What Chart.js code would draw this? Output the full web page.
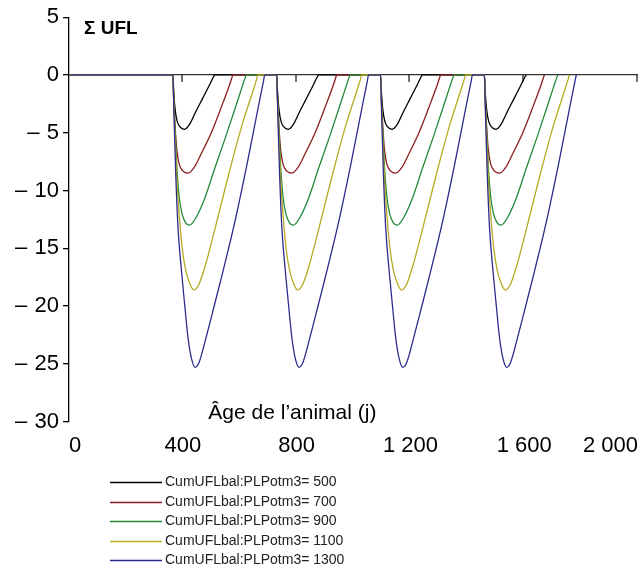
<!DOCTYPE html>
<html>
<head>
<meta charset="utf-8">
<script src="https://cdn.jsdelivr.net/npm/chart.js@4"></script>
<style>
  body { margin: 0; background: #fff; }
  #wrap { width: 641px; height: 570px; }
</style>
</head>
<body>
<div id="wrap"><canvas id="uflChart"></canvas></div>
<script>
// cumulative UFL balance for each lactation, 5 potential milk levels
var calvingDays = [365, 730, 1095, 1460];
var seriesLabels = ['CumUFLbal:PLPotm3= 500', 'CumUFLbal:PLPotm3= 700', 'CumUFLbal:PLPotm3= 900',
                    'CumUFLbal:PLPotm3= 1100', 'CumUFLbal:PLPotm3= 1300'];
var seriesColors = ['#000000', '#8b1f1f', '#23893a', '#b7aa22', '#2b2b8c'];

var days500 = [0, 3, 8, 15, 25, 41, 58, 80, 105, 130, 143, 147];
var ufl500 = [0, -1.5, -3.0, -4.0, -4.5, -4.7, -4.3, -3.2, -2.0, -0.8, -0.15, 0];
var days700 = [0, 3, 8, 14, 22, 35, 53, 75, 100, 135, 170, 200, 208, 211];
var ufl700 = [0, -2.0, -4.5, -6.5, -7.7, -8.3, -8.5, -8.0, -6.8, -5.0, -2.8, -0.8, -0.2, 0];
var days900 = [0, 3, 8, 14, 22, 32, 45, 59, 80, 110, 147, 185, 220, 245, 254, 258];
var ufl900 = [0, -2.2, -5.0, -8.0, -10.5, -12.0, -12.8, -13.0, -12.4, -10.8, -8.1, -5.4, -2.8, -0.9, -0.25, 0];
var days1100 = [0, 3, 8, 14, 22, 32, 45, 60, 73, 90, 115, 147, 190, 240, 280, 294, 299];
var ufl1100 = [0, -2.4, -5.5, -9.0, -12.0, -14.8, -16.9, -18.1, -18.6, -18.2, -16.4, -13.4, -9.2, -4.6, -1.5, -0.4, 0];
var days1300 = [0, 4, 10, 18, 30, 42, 53, 65, 79, 90, 102, 118, 140, 175, 217, 260, 300, 318, 323];
var ufl1300 = [0, -3.5, -8.5, -13.2, -16.9, -20.0, -22.7, -24.5, -25.3, -25.0, -24.1, -22.6, -20.5, -17.1, -12.8, -7.8, -2.8, -0.6, 0];

var xTicks = [0, 400, 800, 1200, 1600, 2000];
var yTicks = [5, 0, -5, -10, -15, -20, -25, -30];

var dayLists = [days500, days700, days900, days1100, days1300];
var uflLists = [ufl500, ufl700, ufl900, ufl1100, ufl1300];

function buildPoints(days, ufl) {
    var pts = [{x: 0, y: 0}];
    calvingDays.forEach(function(c) {
        for (var i = 0; i < days.length; i++) pts.push({x: c + days[i], y: ufl[i]});
    });
    return pts;
}

var datasets = seriesLabels.map(function(label, i) {
    return {
        label: label,
        data: buildPoints(dayLists[i], uflLists[i]),
        borderColor: seriesColors[i],
        borderWidth: 1.3,
        pointRadius: 0,
        cubicInterpolationMode: 'monotone',
        order: seriesLabels.length - i
    };
});

var FONT = '"Liberation Sans", Arial, sans-serif';

var decorations = {
    id: 'decorations',
    beforeDatasetsDraw: function(chart) {
        var ctx = chart.ctx, xs = chart.scales.x, ys = chart.scales.y, area = chart.chartArea;
        var y0 = ys.getPixelForValue(0);
        ctx.save();
        ctx.strokeStyle = '#222';
        ctx.lineWidth = 1.3;
        xTicks.forEach(function(v) {
            if (v === 0) return;
            var px = Math.round(xs.getPixelForValue(v)) - 1;
            ctx.beginPath();
            ctx.moveTo(px, y0);
            ctx.lineTo(px, y0 + 7);
            ctx.stroke();
        });
        ctx.fillStyle = '#000';
        ctx.textBaseline = 'middle';
        ctx.font = 'bold 19px ' + FONT;
        ctx.fillText('Σ UFL', area.left + 15, ys.getPixelForValue(4.0));
        ctx.font = '21px ' + FONT;
        ctx.textAlign = 'center';
        ctx.textBaseline = 'alphabetic';
        ctx.fillText('Âge de l’animal (j)', xs.getPixelForValue(785), ys.getPixelForValue(-29.8));
        ctx.restore();
    },
    afterDraw: function(chart) {
        var ctx = chart.ctx;
        ctx.save();
        ctx.font = '14px ' + FONT;
        ctx.textBaseline = 'middle';
        ctx.fillStyle = '#222';
        chart.data.datasets.forEach(function(ds, i) {
            var yy = Math.round(482 + i * 19.5) + 0.5;
            ctx.strokeStyle = ds.borderColor;
            ctx.lineWidth = 1.3;
            ctx.beginPath();
            ctx.moveTo(110, yy);
            ctx.lineTo(162, yy);
            ctx.stroke();
            ctx.fillText(ds.label, 165, yy);
        });
        ctx.restore();
    }
};

function formatX(v) {
    if (v >= 1000) {
        var rest = String(v % 1000);
        while (rest.length < 3) rest = '0' + rest;
        return Math.floor(v / 1000) + ' ' + rest;
    }
    return String(v);
}

new Chart(document.getElementById('uflChart').getContext('2d'), {
    type: 'line',
    data: { datasets: datasets },
    plugins: [decorations],
    options: {
        responsive: true,
        maintainAspectRatio: false,
        animation: false,
        layout: { padding: { top: 6, right: 3, bottom: 108, left: 11 } },
        plugins: { legend: { display: false }, tooltip: { enabled: false } },
        scales: {
            x: {
                type: 'linear',
                min: 0,
                max: 2000,
                afterBuildTicks: function(scale) {
                    scale.ticks = xTicks.map(function(v) { return {value: v}; });
                },
                grid: { display: false },
                border: { display: false },
                ticks: {
                    color: '#000',
                    align: 'inner',
                    font: { family: FONT, size: 22 },
                    callback: function(v) { return formatX(v); }
                }
            },
            y: {
                min: -30,
                max: 5,
                afterBuildTicks: function(scale) {
                    scale.ticks = yTicks.map(function(v) { return {value: v}; });
                },
                border: { display: true, color: '#000', width: 1.3 },
                grid: {
                    color: function(c) { return c.tick && c.tick.value === 0 ? '#333' : 'rgba(0,0,0,0)'; },
                    lineWidth: 1.3,
                    tickColor: '#000',
                    tickLength: 6
                },
                ticks: {
                    color: '#000',
                    padding: 4,
                    font: { family: FONT, size: 22 },
                    callback: function(v) { return v < 0 ? '–\u2004' + Math.abs(v) : String(v); }
                }
            }
        }
    }
});
</script>
</body>
</html>
